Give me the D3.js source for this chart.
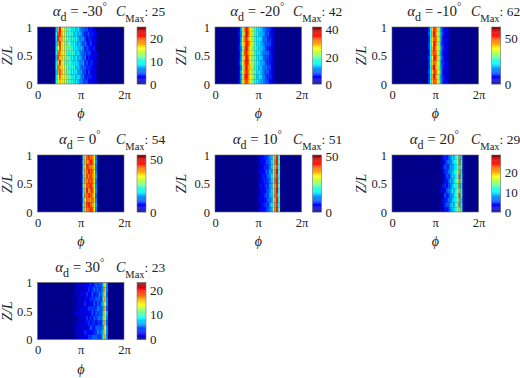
<!DOCTYPE html>
<html>
<head>
<meta charset="utf-8">
<script src="https://cdn.jsdelivr.net/npm/d3@7"></script>
<style>
  html, body { margin: 0; padding: 0; background: #fff; }
  svg { display: block; }
  text { font-family: "Liberation Serif", serif; fill: #222; }
</style>
</head>
<body>
<svg id="canvas" width="520" height="378"></svg>
<script>
// ===== Data =====
const angles = ["-30", "-20", "-10", "0", "10", "20", "30"];
const cMax = [25, 42, 62, 54, 51, 29, 23];
const colorTicks = [[0, 10, 20], [0, 20, 40], [0, 50], [0, 50], [0, 50], [0, 10, 20], [0, 10, 20]];
const zTicks = [0, 0.5, 1];
const phiTicks = [0, Math.PI, 2 * Math.PI];
const phiBins = 48;
const zBins = 12;
// first non-empty phi bin of each panel
const firstBin = [10, 13, 20, 24, 24, 27, 20];

// counts per cell, top row first, starting at firstBin
const countsM30 = [
  [ 8,18,22,16,15,14,11,12,10, 9,10, 8, 9, 7, 6, 6, 5, 5, 3, 4, 3, 2, 0],
  [10,20,21,17,15,13,12,10,11,10, 8, 9, 7, 8, 7, 5, 4, 4, 5, 3, 4, 3, 2],
  [ 9,21,18,18,14,14,12,11, 9,11, 9,10, 8, 6, 7, 7, 5, 3, 4, 4, 2, 3, 1],
  [ 8,18,21,15,16,13,11,13,10, 9,10, 8, 7, 8, 6, 5, 6, 4, 3, 5, 3, 2, 2],
  [ 9,16,20,16,15,13,13,11,12,10, 9, 9, 8, 7, 8, 6, 4, 5, 4, 3, 3, 4, 0],
  [10,19,19,15,16,14,12,10,10,12,10, 8, 9, 7, 6, 6, 5, 4, 5, 4, 2, 2, 3],
  [ 8,20,17,17,14,13,13,12, 9,10, 8,10, 7, 8, 7, 5, 6, 3, 4, 3, 3, 3, 1],
  [ 9,17,21,15,15,12,11,11,11, 9, 9, 9, 8, 6, 7, 7, 4, 5, 3, 4, 4, 2, 2],
  [10,19,18,16,15,14,13,10,10,11,10, 8, 8, 7, 5, 6, 5, 4, 4, 4, 2, 3, 0],
  [ 8,18,20,17,16,13,12,12, 9,10, 9,10, 7, 7, 7, 5, 5, 3, 5, 3, 3, 2, 2],
  [ 9,16,19,16,16,15,13,12,11, 9,10, 8, 9, 8, 6, 6, 4, 4, 4, 4, 3, 3, 1],
  [10,15,17,16,16,14,13,11,10,11, 9, 9, 8, 6, 7, 5, 5, 5, 3, 3, 2, 2, 2]
];
const countsM20 = [
  [ 5,12,22,31,37,32,26,22,21,19,16,15,14,12,10, 9, 8, 7, 5, 3],
  [ 6,11,21,29,38,33,27,23,20,18,17,14,13,13,11, 8, 9, 6, 4, 4],
  [ 4,12,23,32,35,30,26,21,22,17,16,16,15,11,10,10, 7, 7, 6, 3],
  [ 5,13,24,30,36,33,28,24,20,19,15,15,13,12, 9, 9, 8, 8, 5, 4],
  [ 6,11,20,31,38,31,25,22,19,18,17,14,14,13,11, 8, 7, 6, 5, 2],
  [ 4,12,23,33,35,30,27,23,21,17,16,16,13,11,10,10, 9, 7, 4, 4],
  [ 5,12,22,29,37,32,26,20,20,19,15,14,15,12, 9, 9, 8, 6, 6, 3],
  [ 6,13,24,32,36,33,24,22,22,18,17,15,12,13,11, 8, 7, 7, 5, 3],
  [ 5,11,21,30,38,30,28,23,19,17,16,13,14,11,10,10, 8, 8, 4, 4],
  [ 4,13,23,31,35,32,25,21,21,19,15,16,13,12, 9, 9, 9, 6, 5, 2],
  [ 5,12,22,33,37,31,26,24,20,18,14,15,15,11,11, 8, 7, 7, 6, 3],
  [ 6,12,24,31,34,30,24,22,18,17,16,14,12,12,10, 9, 8, 5, 4, 3]
];
const countsM10 = [
  [10,26,42,52,46,35,27,14, 9, 8, 6, 3],
  [12,24,44,55,44,36,25,16,10, 7, 5, 4],
  [ 9,28,41,49,47,38,28,15, 8, 7, 6, 5],
  [11,26,40,54,46,34,26,13, 9, 6, 7, 3],
  [10,25,43,53,43,37,29,16,10, 8, 5, 4],
  [ 8,27,45,50,46,35,25,14, 8, 7, 6, 2],
  [11,24,39,54,48,38,27,16, 9, 6, 5, 4],
  [10,28,42,48,45,36,28,13,11, 8, 7, 3],
  [ 9,26,46,55,42,34,26,15, 9, 7, 6, 5],
  [12,24,41,51,47,38,29,16, 8, 6, 5, 3],
  [10,27,44,54,44,35,24,14,10, 8, 4, 4],
  [11,25,42,49,46,37,27,15, 9, 7, 6, 2]
];
const countsZero = [
  [3,20,36,42,45,41,41,33,14],
  [4,22,38,40,41,46,43,31,15],
  [2,21,35,45,43,40,40,34,13],
  [3,23,38,41,46,42,42,32,14],
  [4,19,37,44,40,45,39,35,16],
  [3,21,39,40,44,41,43,33,13],
  [2,24,36,43,42,46,41,30,14],
  [4,20,37,46,39,42,44,34,15],
  [3,22,40,41,45,43,40,32,12],
  [4,19,35,42,41,39,42,36,14],
  [2,23,38,44,46,42,39,31,16],
  [3,21,37,41,42,45,43,33,14]
];
const countsP10 = [
  [3,5,6,8,9,10,14,15,25,37,43,22],
  [2,6,7,6,10,11,12,17,24,39,44,24],
  [4,4,5,8,8,9,13,16,27,36,41,21],
  [3,6,6,7,11,10,15,14,25,38,45,23],
  [2,5,8,7,9,12,13,18,26,38,42,20],
  [4,4,6,9,8,10,12,16,23,40,44,22],
  [3,7,5,7,10,9,14,15,28,37,43,24],
  [2,5,7,6,9,11,13,17,25,38,45,21],
  [3,4,6,8,11,10,15,16,24,39,41,23],
  [4,6,5,7,8,12,12,14,26,36,44,22],
  [2,5,7,8,10,9,14,18,25,38,42,20],
  [3,6,6,6,9,11,13,15,27,38,43,24]
];
const countsP20 = [
  [0,4,5,4,6,8,10,9,13,14,22,10],
  [3,2,4,6,7,7,9,11,12,15,23,11],
  [2,4,6,5,5,9,8,10,11,13,21,12],
  [0,3,5,5,7,8,9,11,13,16,22,10],
  [1,2,3,6,5,7,10,9,12,14,24,11],
  [0,0,4,4,6,9,8,10,14,15,22,12],
  [2,4,5,3,6,7,9,12,11,13,23,10],
  [3,3,3,6,7,8,11,9,12,16,21,11],
  [0,2,6,4,5,8,8,10,13,14,24,12],
  [1,4,4,5,7,7,9,11,11,15,22,10],
  [2,3,5,6,6,9,10,9,14,13,23,11],
  [3,0,4,4,5,8,9,10,12,15,20,12]
];
const countsP30 = [
  [1,1,2,1,2,3,2,3,3,4,3,4,5,4,5,5,8,15,6],
  [0,2,1,2,2,2,3,2,4,3,4,5,4,5,4,5,7,16,6],
  [1,1,1,2,3,2,2,4,3,3,5,3,4,4,6,5,8,15,5],
  [1,0,2,2,1,3,3,3,2,4,4,4,5,5,5,4,9,16,6],
  [0,1,2,1,2,2,4,2,3,3,3,5,3,5,4,6,8,14,6],
  [1,1,1,3,2,3,2,3,4,4,4,4,4,6,5,5,7,16,5],
  [1,2,2,1,3,2,3,2,3,3,5,3,5,4,5,5,8,15,7],
  [0,1,1,2,2,3,2,4,2,4,3,5,4,5,6,5,9,15,6],
  [1,0,2,2,1,2,3,3,4,3,4,4,3,4,4,4,8,16,5],
  [1,1,2,1,3,3,2,2,3,5,4,3,5,5,5,5,7,14,6],
  [0,2,1,2,2,2,4,3,3,3,3,4,4,6,5,6,8,15,6],
  [1,1,1,3,2,3,3,2,4,4,5,5,5,4,4,5,9,16,6]
];
const panels = [countsM30, countsM20, countsM10, countsZero, countsP10, countsP20, countsP30];

// ===== Layout =====
const mapW = 86.5, mapH = 57;
const barW = 9;
const panelX = [37.5, 215, 392, 37.5, 215, 392, 37.5];
const panelY = [27, 27, 27, 155, 155, 155, 282.5];
const barX = [137, 312.5, 491.7, 137, 312.5, 491.7, 137];
const zLabelX = [8, 182, 362, 8, 182, 362, 8];
const cLabelX = [116, 293, 471, 116, 293, 471, 116];

const svg = d3.select("#canvas");

// slight blur, the original is a soft bitmap
svg.append("defs").append("filter")
  .attr("id", "soft")
  .append("feGaussianBlur")
  .attr("stdDeviation", 0.6);

// Jet colormap
const jet = d3.scaleLinear()
  .domain([0, 0.125, 0.375, 0.625, 0.875, 1])
  .range(["#00008b", "#0000ff", "#00ffff", "#ffff00", "#ff0000", "#7f0000"]);

const phi = d3.scaleLinear().domain([0, 2 * Math.PI]).range([0, mapW]);
const z = d3.scaleLinear().domain([0, 1]).range([mapH, 0]);
const phiBand = d3.scaleBand().domain(d3.range(phiBins)).range([0, mapW]);
const zBand = d3.scaleBand().domain(d3.range(zBins)).range([0, mapH]);
const piLabel = d => d === 0 ? "0" : (d < 4 ? "π" : "2π");

panels.forEach(function (rows, i) {
  const g = svg.append("g").attr("transform", `translate(${panelX[i]},${panelY[i]})`);
  const max = cMax[i];

  g.append("clipPath").attr("id", "clip" + i)
    .append("rect").attr("width", mapW).attr("height", mapH);

  // Heatmap
  const map = g.append("g").attr("clip-path", `url(#clip${i})`)
    .append("g").attr("filter", "url(#soft)");

  map.append("rect")
    .attr("x", -3).attr("y", -3)
    .attr("width", mapW + 6).attr("height", mapH + 6)
    .attr("fill", jet(0));

  const cells = rows.flatMap((row, r) => row.map((v, c) => ({ r, c: c + firstBin[i], v })));
  map.selectAll(".cell")
    .data(cells)
    .enter()
    .append("rect")
    .attr("class", "cell")
    .attr("x", d => phiBand(d.c))
    .attr("y", d => zBand(d.r))
    .attr("width", phiBand.bandwidth() + 0.1)
    .attr("height", zBand.bandwidth() + 0.1)
    .attr("fill", d => jet(d.v / max));

  g.append("rect")
    .attr("width", mapW).attr("height", mapH)
    .attr("fill", "none").attr("stroke", "#666").attr("stroke-width", 0.6);

  // Axes
  const xAxis = g.append("g")
    .attr("transform", `translate(0,${mapH})`)
    .call(d3.axisBottom(phi).tickValues(phiTicks).tickSize(0).tickPadding(6).tickFormat(piLabel));
  const yAxis = g.append("g")
    .call(d3.axisLeft(z).tickValues(zTicks).tickSize(0).tickPadding(5).tickFormat(d3.format("~g")));
  [xAxis, yAxis].forEach(a => {
    a.select(".domain").remove();
    a.selectAll("text").attr("font-size", 12.5).attr("fill", "#222");
  });

  g.append("text")
    .attr("x", mapW / 2).attr("y", mapH + 34)
    .attr("text-anchor", "middle").attr("font-size", 14).attr("font-style", "italic")
    .text("ϕ");

  g.append("text")
    .attr("transform", `translate(${zLabelX[i] - panelX[i] + 4},${mapH / 2}) rotate(-90)`)
    .attr("text-anchor", "middle").attr("font-size", 14).attr("font-style", "italic")
    .text("Z/L");

  // Title
  const title = g.append("text")
    .attr("x", mapW / 2 - 1).attr("y", -11)
    .attr("text-anchor", "middle").attr("font-size", 15);
  title.append("tspan").attr("font-style", "italic").text("α");
  title.append("tspan").attr("dy", 5).attr("font-size", 12).text("d");
  title.append("tspan").attr("dy", -5).text(` = ${angles[i]}`);
  title.append("tspan").attr("dy", -6).attr("font-size", 11).text("°");

  // Cmax note
  const note = g.append("text")
    .attr("x", cLabelX[i] - panelX[i]).attr("y", -11);
  note.append("tspan").attr("font-style", "italic").attr("font-size", 14).text("C");
  note.append("tspan").attr("dy", 6).attr("font-size", 10.5).text("Max");
  note.append("tspan").attr("dy", -6).attr("font-size", 13.5).text(`: ${max}`);

  // Colorbar
  const bar = svg.append("g").attr("transform", `translate(${barX[i]},${panelY[i]})`);
  const level = d3.scaleLinear().domain([0, max]).range([mapH, 0]);
  const steps = d3.range(0, 64);
  const stepBand = d3.scaleBand().domain(steps).range([mapH, 0]);
  bar.selectAll("rect")
    .data(steps)
    .enter()
    .append("rect")
    .attr("y", d => stepBand(d))
    .attr("width", barW)
    .attr("height", stepBand.bandwidth() + 0.2)
    .attr("fill", d => jet((d + 0.5) / 64));
  bar.append("rect")
    .attr("width", barW).attr("height", mapH)
    .attr("fill", "none").attr("stroke", "#777").attr("stroke-width", 0.6);
  const cAxis = bar.append("g")
    .attr("transform", `translate(${barW},0)`)
    .call(d3.axisRight(level).tickValues(colorTicks[i]).tickSize(0).tickPadding(4));
  cAxis.select(".domain").remove();
  cAxis.selectAll("text").attr("font-size", 13).attr("fill", "#222");
});
</script>
</body>
</html>
